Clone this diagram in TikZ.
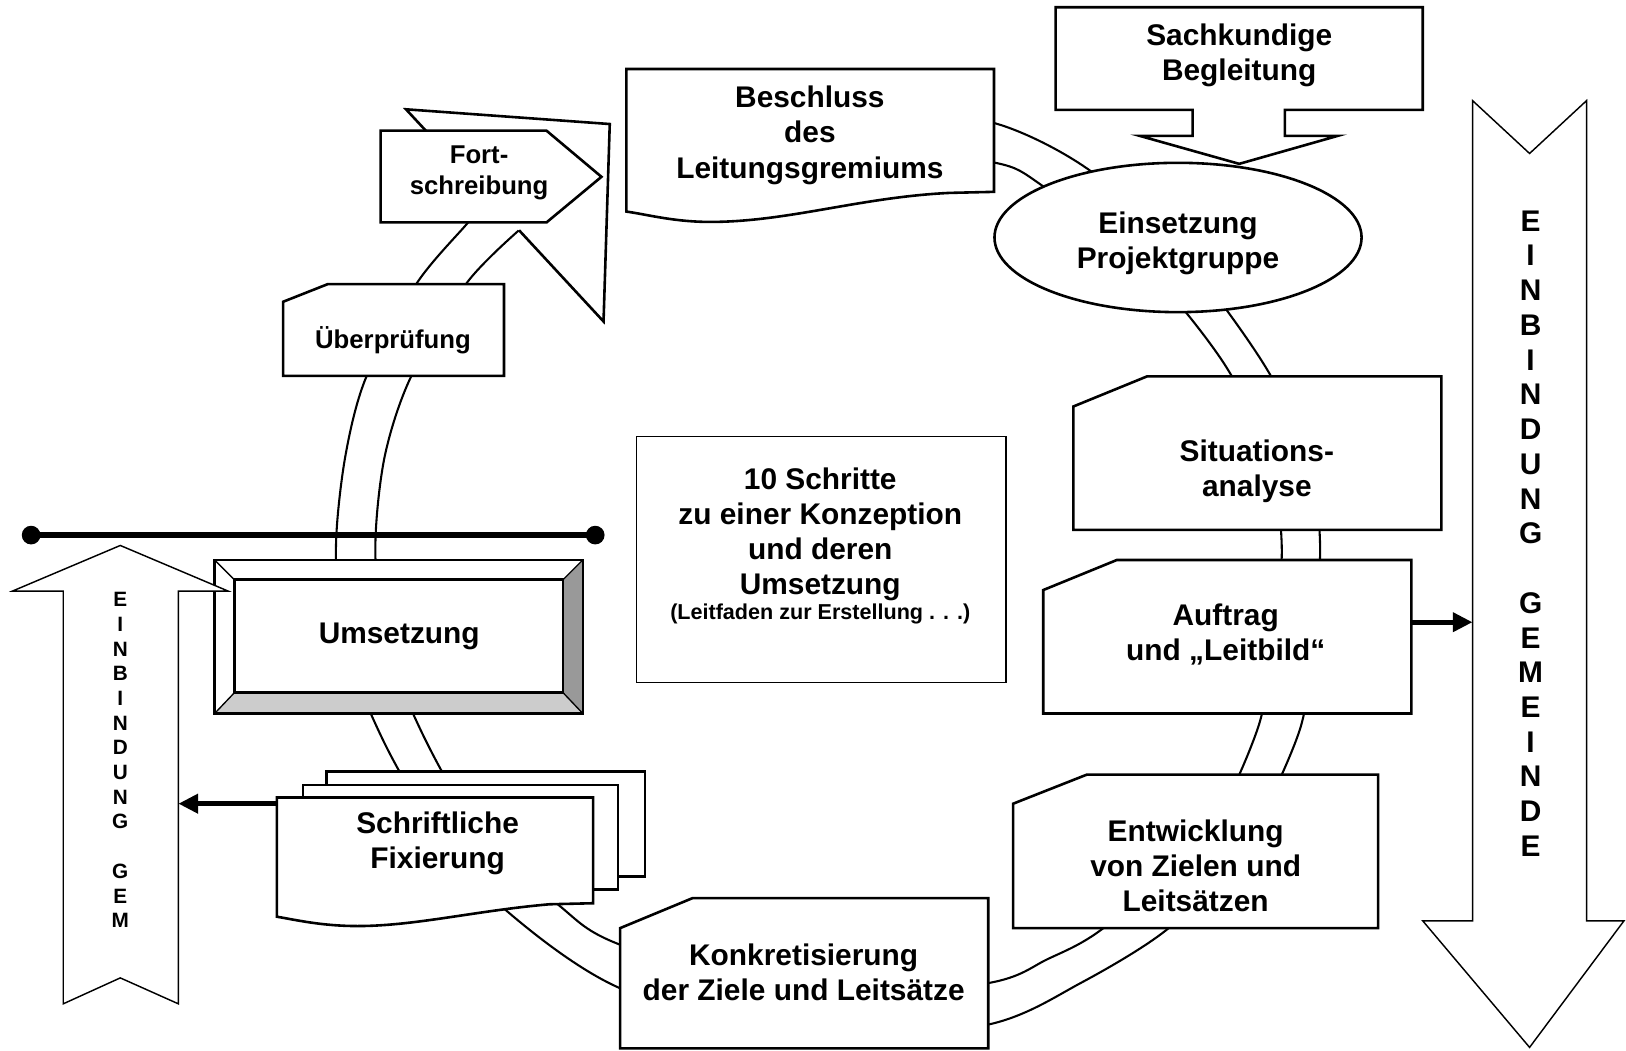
\documentclass[tikz,border=0pt]{standalone}
\usepackage{fontspec}
\setmainfont{Liberation Sans}
\usepackage{tikz}
\usetikzlibrary{arrows.meta}
\tikzset{
  boxline/.style={draw=black,line width=2.5pt,fill=white},
  thinline/.style={draw=black,line width=1.4pt,fill=white},
  ringline/.style={draw=black,line width=2pt},
  boxtext/.style={align=center,inner sep=0pt,font=\bfseries\fontsize{28.8}{33.8}\selectfont},
  smalltext/.style={boxtext,font=\bfseries\fontsize{24.8}{30}\selectfont},
  fattip/.style={line width=5pt,-{Triangle[length=19pt,width=18pt]}}
}

\begin{document}
\begin{tikzpicture}[x=1pt,y=-1pt]
  \useasboundingbox (0,0) rectangle (1568,1013);
  \draw[ringline] plot[smooth] coordinates {(740,102) (850,106) (960,119) (1049,163) (1140,245) (1218,350) (1262,440) (1273,526) (1266,615) (1253,705) (1198,820) (1127,895) (1042,948) (953,988) (780,1005) (598,953) (487,877) (420,800) (370,715) (330,615) (324,526) (333,440) (353,364) (402,273) (451,215) (471,191)};
  \draw[ringline] plot[smooth] coordinates {(740,142) (850,146) (960,157) (1005,179) (1105,258) (1180,350) (1224,440) (1236,526) (1229,615) (1212,705) (1160,810) (1064,895) (1010,925) (953,948) (780,966) (598,911) (539,873) (462,800) (411,715) (370,615) (362,526) (371,440) (396,364) (450,273) (500.5,222)};
  \fill[white] (391.5,105.4) -- (588,119.6) -- (582,310) -- cycle;
  \draw[boxline,fill=none] (500.5,222) -- (582,310) -- (588,119.6) -- (391.5,105.4) -- (471,191);
  \draw[boxline] (367,126) -- (527,126) -- (580,170.5) -- (527,214.5) -- (367,214.5) -- cycle;
  \draw[boxline] (316,274) -- (486,274) -- (486,362.5) -- (273,362.5) -- (273,291) -- cycle;
  \draw[boxline] (604,66.5) -- (958.5,66.5) -- (958.5,185) -- (916,186) .. controls (830,190) and (760,214) .. (685,214) .. controls (650,214) and (625,207) .. (604,204) -- cycle;
  \draw[boxline] (1136,229) ellipse (177pt and 72pt);
  \draw[boxline] (1018,7) -- (1372,7) -- (1372,106) -- (1239,106) -- (1239,131) -- (1290,131) -- (1195,158) -- (1099,131) -- (1150,131) -- (1150,106) -- (1018,106) -- cycle;
  \draw[boxline] (1106,363) -- (1390,363) -- (1390,511) -- (1035,511) -- (1035,392) -- cycle;
  \draw[boxline] (1077,540) -- (1361,540) -- (1361,688) -- (1006,688) -- (1006,569) -- cycle;
  \draw[boxline] (1048,747) -- (1329,747) -- (1329,895) -- (977,895) -- (977,775) -- cycle;
  \draw[boxline] (668,866) -- (953,866) -- (953,1011) -- (598,1011) -- (598,895) -- cycle;
  \draw[boxline] (315,744) rectangle (622,845);
  \draw[boxline] (292,757) rectangle (596,858);
  \draw[boxline] (267,769) -- (572,769) -- (572,871) -- (530,872) .. controls (460,878) and (400,893) .. (345,893) .. controls (310,893) and (285,887) .. (267,884) -- cycle;
  \draw[boxline] (207,540) rectangle (562,688);
  \fill[black!20] (207,688) -- (226,668) -- (543,668) -- (562,688) -- cycle;
  \fill[black!40] (562,540) -- (543,559) -- (543,668) -- (562,688) -- cycle;
  \draw[line width=1.3pt] (207,540) -- (226,559) (562,540) -- (543,559) (207,688) -- (226,668) (562,688) -- (543,668);
  \draw[boxline] (226,559) rectangle (543,668);
  \draw[line width=2.5pt] (207,540) rectangle (562,688);
  \draw[thinline] (614,421) rectangle (970,658);
  \draw[line width=6pt] (30,516) -- (574,516);
  \fill (30,516) circle (9pt) (574,516) circle (9pt);
  \draw[thinline] (116,526) -- (220,570) -- (172,570) -- (172,968) -- (116,943) -- (61,968) -- (61,570) -- (12,570) -- cycle;
  \draw[thinline] (1420,97) -- (1475,148) -- (1530,97) -- (1530,888) -- (1566,888) -- (1475,1010) -- (1372,888) -- (1420,888) -- cycle;
  \coordinate (auftragR) at (1361,600);
  \coordinate (einbRW) at (1420,600);
  \coordinate (fixierungL) at (267,775);
  \coordinate (einbLE) at (172,775);
  \draw[fattip] (auftragR) -- (einbRW);
  \draw[fattip] (fixierungL) -- (einbLE);
  \node[boxtext] (sachkundig) at (1195,53) {Sachkundige\\Begleitung};
  \node[boxtext] (beschluss) at (781,130.5) {Beschluss\\des\\Leitungsgremiums};
  \node[boxtext] (einsetzung) at (1136,235) {Einsetzung\\Projektgruppe};
  \node[smalltext] (fortschr) at (462,166.5) {Fort-\\schreibung};
  \node[smalltext] (ueberpr) at (379,328) {Überprüfung};
  \node[boxtext] (umsetzung) at (385,614) {Umsetzung};
  \node[boxtext] (konzeption) at (791,515) {10 Schritte\\zu einer Konzeption\\und deren\\Umsetzung};
  \node[boxtext,font=\bfseries\fontsize{20.8}{24}\selectfont] (leitfaden) at (791,592.5) {(Leitfaden zur Erstellung . . .)};
  \node[boxtext] (situation) at (1212,454) {Situations-\\analyse};
  \node[boxtext] (auftrag) at (1182,612) {Auftrag\\und „Leitbild“};
  \node[boxtext] (entwicklung) at (1153,835) {Entwicklung\\von Zielen und\\Leitsätzen};
  \node[boxtext] (konkret) at (775,937.5) {Konkretisierung\\der Ziele und Leitsätze};
  \node[boxtext] (fixierung) at (422,813) {Schriftliche\\Fixierung};
  \node[boxtext,font=\bfseries\fontsize{28.8}{33.5}\selectfont] (einbR) at (1476,514.5) {E\\I\\N\\B\\I\\N\\D\\U\\N\\G\\[\baselineskip]G\\E\\M\\E\\I\\N\\D\\E};
  \node[boxtext,font=\bfseries\fontsize{20}{23.8}\selectfont] (einbL) at (116,733) {E\\I\\N\\B\\I\\N\\D\\U\\N\\G\\[\baselineskip]G\\E\\M};
\end{tikzpicture}
\end{document}
